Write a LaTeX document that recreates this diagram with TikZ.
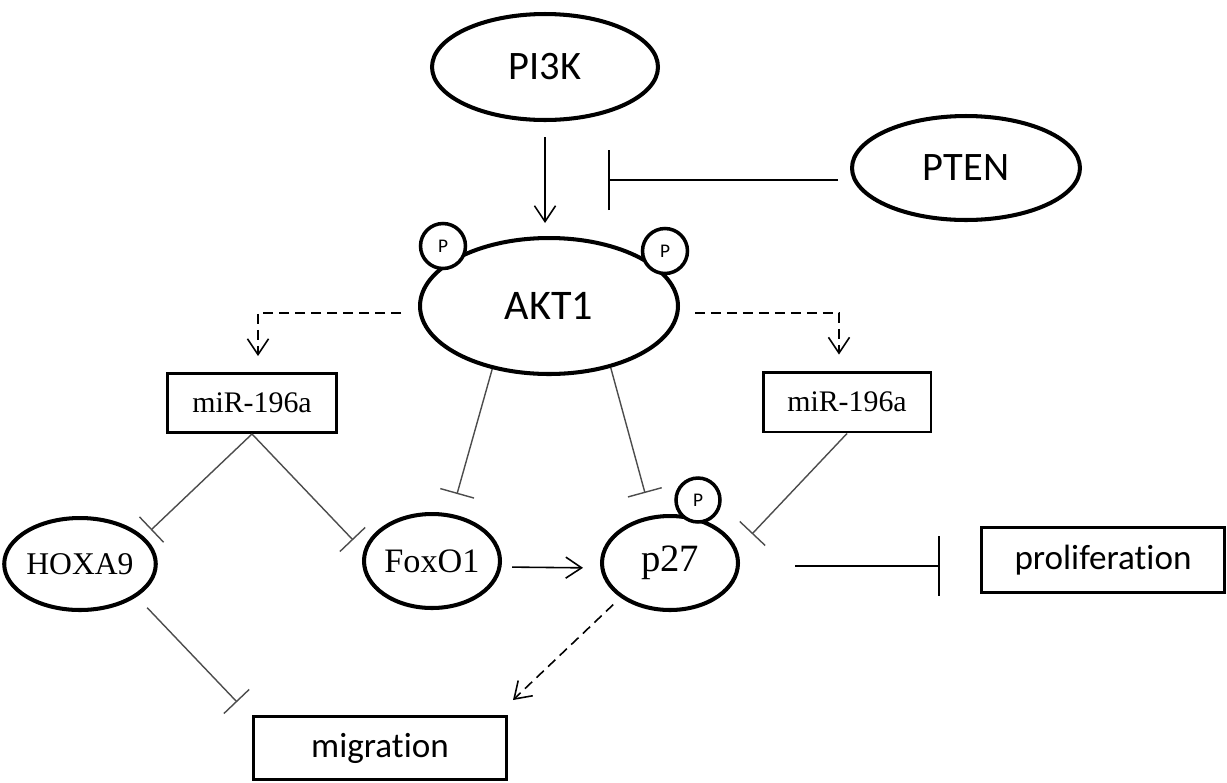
\documentclass[tikz,border=0pt]{standalone}
\usepackage{fontspec}
\setmainfont{Liberation Serif}
\newfontfamily\calib[Ligatures=NoCommon]{Carlito}
\usetikzlibrary{shapes.geometric,arrows.meta}

\begin{document}
\begin{tikzpicture}[x=0.02cm,y=-0.02cm,
   prot/.style={ellipse,draw,line width=2.3pt,inner sep=0pt},
   phos/.style={circle,draw,fill=white,line width=2pt,inner sep=0pt,minimum size=0.9cm,
                font=\calib\fontsize{11}{11}\selectfont},
   lbox/.style={rectangle,draw,line width=1.7pt,inner sep=0pt},
   act/.style={-{Straight Barb[length=9pt,width=12pt]},line width=0.9pt},
   dact/.style={act,dash pattern=on 0.2cm off 0.12cm},
   inh/.style={-{Bar[width=0.7cm]},line width=0.8pt,draw=black!70},
   inhbig/.style={-{Bar[width=1.2cm]},line width=1pt}]
  \useasboundingbox (0,0) rectangle (1227,782);
  % pixel grid of the figure, y running down

  % ---- top : PI3K, PTEN, AKT1 ----
  \node[prot,minimum width=4.52cm,minimum height=2.12cm,font=\calib\fontsize{23}{23}\selectfont] (pik) at (545,67) {PI3K};
  \node[prot,minimum width=4.56cm,minimum height=2.08cm,font=\calib\fontsize{23}{23}\selectfont] (pten) at (966,168) {PTEN};
  \node[prot,minimum width=5.16cm,minimum height=2.72cm,font=\calib\fontsize{24}{24}\selectfont] (akt) at (549,306) {AKT1};
  \node[phos] (aktpl) at (443,246) {P};
  \node[phos] (aktpr) at (665,251) {P};

  % ---- middle : the two miR boxes ----
  \node[lbox,minimum width=3.4cm,minimum height=1.18cm,font=\fontsize{17}{17}\selectfont] (mirL) at (252,403) {miR-196a};
  \node[lbox,minimum width=3.36cm,minimum height=1.2cm,font=\fontsize{17}{17}\selectfont] (mirR) at (847,402) {miR-196a};

  % ---- targets ----
  \node[prot,minimum width=2.68cm,minimum height=1.84cm,font=\fontsize{18}{18}\selectfont] (hox) at (80,564) {HOXA9};
  \node[prot,minimum width=2.72cm,minimum height=1.88cm,font=\fontsize{19.5}{19.5}\selectfont] (fox) at (432,561) {FoxO1};
  \node[prot,minimum width=2.72cm,minimum height=1.88cm,font=\fontsize{22}{22}\selectfont] (p27) at (670,563) {p27};
  \node[phos,minimum size=0.88cm] (p27p) at (698,500) {P};

  % ---- outcomes ----
  \node[lbox,minimum width=4.86cm,minimum height=1.3cm,font=\calib\fontsize{20}{20}\selectfont] (prol) at (1103,560) {proliferation};
  \node[lbox,minimum width=5.08cm,minimum height=1.26cm,font=\calib\fontsize{20}{20}\selectfont] (mig) at (380,748) {migration};

  % ---- bar ends ----
  \coordinate (ptenbar) at (608,180);
  \coordinate (foxbar) at (457,494);
  \coordinate (p27bar) at (645,493);
  \coordinate (hoxbar) at (151,530);
  \coordinate (foxbarL) at (353,540);
  \coordinate (p27barR) at (752,534);
  \coordinate (migbar) at (237,702);
  \coordinate (migtip) at (513,700);
  \coordinate (p27r) at ([yshift=-0.06cm]p27.east);

  % ---- links ----
  \draw[act,shorten <=0.3cm,shorten >=0.26cm] (pik.south) -- (pik.south |- akt.north);
  \draw[inhbig,shorten <=0.24cm] (pten.west |- ptenbar) -- (ptenbar);
  \draw[dact,shorten <=0.34cm,shorten >=0.32cm] ([yshift=-0.14cm]akt.west) -| ([xshift=0.12cm]mirL.north);
  \draw[dact,shorten <=0.3cm,shorten >=0.32cm] ([yshift=-0.14cm]akt.east) -| ([xshift=-0.16cm]mirR.north);
  \draw[inh] (akt.228) -- (foxbar);
  \draw[inh] (akt.315) -- (p27bar);
  \draw[inh] (mirL.south) -- (hoxbar);
  \draw[inh] (mirL.south) -- (foxbarL);
  \draw[inh] (mirR.south) -- (p27barR);
  \draw[act,shorten <=0.2cm,shorten >=0.34cm] ([yshift=-0.12cm]fox.east) -- ([yshift=-0.1cm]p27.west);
  \draw[inhbig,shorten <=1.1cm,shorten >=0.8cm] (p27r) -- (p27r -| prol.west);
  \draw[inh,shorten <=0.3cm] (hox.330) -- (migbar);
  \draw[dact,shorten <=0.2cm] (p27.215) -- (migtip);
\end{tikzpicture}
\end{document}
